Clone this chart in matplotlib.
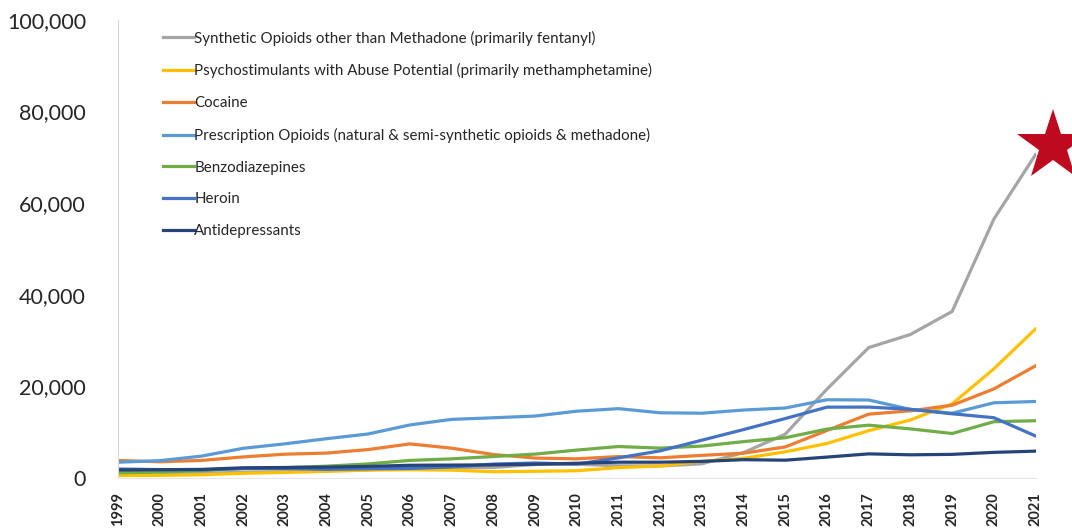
import matplotlib.pyplot as plt

plt.rcParams['font.family'] = ['Lato', 'DejaVu Sans']

years = list(range(1999, 2022))

synthetic = [730, 782, 957, 1295, 1400, 1664, 1742, 2707, 2213, 2306, 2946, 3007,
             2666, 2628, 3105, 5544, 9580, 19413, 28466, 31335, 36359, 56516, 70601]
psychostim = [547, 578, 705, 1024, 1218, 1448, 1717, 1811, 1714, 1365, 1463, 1582,
              2266, 2635, 3627, 4298, 5716, 7542, 10333, 12676, 16167, 23837, 32537]
cocaine = [3822, 3544, 3833, 4599, 5199, 5443, 6208, 7448, 6512, 5129, 4350, 4183,
           4681, 4404, 4944, 5415, 6784, 10375, 13942, 14666, 15883, 19447, 24486]
prescription = [3442, 3785, 4770, 6483, 7456, 8577, 9612, 11589, 12796, 13149, 13523, 14583,
                15140, 14240, 14145, 14838, 15281, 17087, 17029, 14975, 14139, 16416, 16706]
benzo = [1135, 1298, 1594, 2076, 2248, 2585, 3078, 3835, 4184, 4687, 5216, 6094,
         6872, 6524, 6973, 7945, 8791, 10684, 11537, 10724, 9711, 12290, 12499]
heroin = [1960, 1842, 1779, 2089, 2080, 1878, 2009, 2088, 2399, 3041, 3278, 3036,
          4397, 5925, 8257, 10574, 12989, 15469, 15482, 14996, 14019, 13165, 9173]
antidep = [1749, 1810, 1880, 2227, 2297, 2380, 2537, 2778, 2823, 2870, 3008, 3216,
           3451, 3451, 3627, 4000, 3889, 4567, 5269, 5064, 5160, 5597, 5863]

labels = ['Synthetic Opioids other than Methadone (primarily fentanyl)',
          'Psychostimulants with Abuse Potential (primarily methamphetamine)',
          'Cocaine',
          'Prescription Opioids (natural & semi-synthetic opioids & methadone)',
          'Benzodiazepines',
          'Heroin',
          'Antidepressants']
colors = ['#A5A5A5', '#FFC000', '#ED7D31', '#5B9BD5', '#70AD47', '#4472C4', '#264478']
series = [synthetic, psychostim, cocaine, prescription, benzo, heroin, antidep]

fig = plt.figure(figsize=(10.72, 5.32), dpi=100)
ax = fig.add_axes([0.110, 0.1015, 0.856, 0.861])

for vals, lab, c in zip(series, labels, colors):
    ax.plot(years, vals, color=c, lw=2.3, label=lab)

# red star marking the 2021 fentanyl figure
ax.plot([2021.42], [72500], marker='*', markersize=54, color='#BE0A1E',
        markeredgewidth=0, clip_on=False, zorder=5)

ax.set_xlim(1999, 2021)
ax.set_ylim(0, 100000)
ax.set_yticks(range(0, 100001, 20000))
ax.set_yticklabels(['{:,}'.format(v) for v in range(0, 100001, 20000)],
                   fontsize=15.5, color='#262626')
ax.set_xticks(years)
ax.set_xticklabels([str(y) for y in years], rotation=90, fontsize=10.5,
                   fontweight='bold', color='#262626')
ax.tick_params(axis='both', length=0)
ax.tick_params(axis='y', pad=23)
ax.tick_params(axis='x', pad=10)

for s in ['top', 'right']:
    ax.spines[s].set_visible(False)
ax.spines['left'].set_color('#D9D9D9')
ax.spines['bottom'].set_color('#E6E6E6')

leg = ax.legend(loc='upper left', bbox_to_anchor=(0.042, 0.99), frameon=False,
                fontsize=10.9, handlelength=2.1, handletextpad=0.0,
                labelspacing=1.17, borderaxespad=0.0)
for t in leg.get_texts():
    t.set_color('#262626')

fig.savefig('out.png', dpi=100)
